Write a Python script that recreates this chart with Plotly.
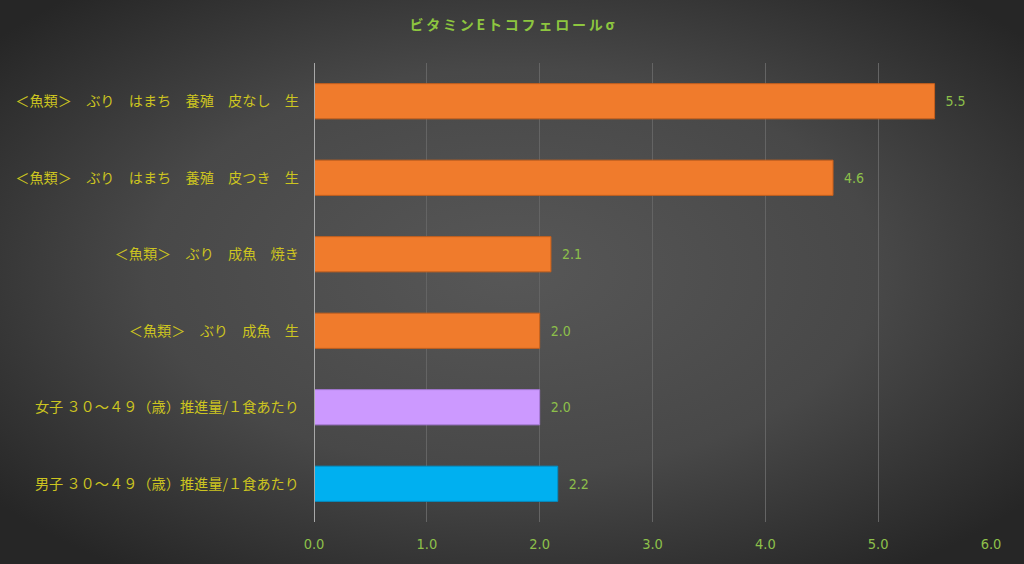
import plotly.graph_objects as go
import urllib.parse

categories = [
    "＜魚類＞　ぶり　はまち　養殖　皮なし　生",
    "＜魚類＞　ぶり　はまち　養殖　皮つき　生",
    "＜魚類＞　ぶり　成魚　焼き",
    "＜魚類＞　ぶり　成魚　生",
    "女子 ３０～４９（歳）推進量/１食あたり",
    "男子 ３０～４９（歳）推進量/１食あたり",
]
values = [5.5, 4.6, 2.1, 2.0, 2.0, 2.16]
bar_colors = ["#F07B2C", "#F07B2C", "#F07B2C", "#F07B2C", "#CC99FF", "#00B0F0"]
line_colors = ["#C8601C", "#C8601C", "#C8601C", "#C8601C", "#A87AD8", "#0090C8"]
tick_vals = [0, 1, 2, 3, 4, 5, 6]
tick_text = ["0.0", "1.0", "2.0", "3.0", "4.0", "5.0", "6.0"]
title_text = "ビタミンEトコフェロールσ"

W, H = 1024, 564
ml, mr, mt, mb = 314, 33, 63, 42
pw, ph = W - ml - mr, H - mt - mb

svg = (
    "<svg xmlns='http://www.w3.org/2000/svg' width='1024' height='564'>"
    "<defs><radialGradient id='g' cx='50%' cy='48%' r='65%'>"
    "<stop offset='0%' stop-color='#575757'/>"
    "<stop offset='55%' stop-color='#484848'/>"
    "<stop offset='100%' stop-color='#262626'/>"
    "</radialGradient></defs>"
    "<rect width='1024' height='564' fill='url(#g)'/></svg>"
)
src = "data:image/svg+xml;charset=utf-8," + urllib.parse.quote(svg)

num_font = "DejaVu Sans Condensed, Liberation Sans Narrow, Open Sans, sans-serif"

fig = go.Figure()
fig.add_trace(go.Bar(
    y=categories,
    x=values,
    orientation="h",
    width=0.46,
    marker=dict(color=bar_colors, line=dict(color=line_colors, width=1)),
    texttemplate="  %{x:.1f}",
    textposition="outside",
    cliponaxis=False,
    textfont=dict(color="#8DC04A", size=14, family=num_font),
    hoverinfo="skip",
))

fig.add_layout_image(dict(
    source=src,
    xref="paper", yref="paper",
    x=-ml / pw, y=1 + mt / ph,
    sizex=W / pw, sizey=H / ph,
    xanchor="left", yanchor="top",
    sizing="stretch", layer="below",
))

spaced_title = "\u2009".join(title_text)

fig.update_layout(
    width=W, height=H,
    margin=dict(l=ml, r=mr, t=mt, b=mb, autoexpand=False),
    paper_bgcolor="#3c3c3c",
    plot_bgcolor="rgba(0,0,0,0)",
    showlegend=False,
    title=dict(
        text="<b>" + spaced_title + "</b>",
        x=0.5, xanchor="center", y=1 - 25 / H, yanchor="middle",
        font=dict(color="#8DC63F", size=14, family="Noto Sans CJK JP, sans-serif"),
    ),
    xaxis=dict(
        range=[0, 6],
        tickvals=tick_vals,
        ticktext=tick_text,
        showgrid=True,
        gridcolor="#646464",
        gridwidth=1,
        zeroline=False,
        showline=False,
        ticks="",
        automargin=False,
        ticklabelstandoff=11,
        tickfont=dict(color="#8DC04A", size=14.5, family=num_font),
    ),
    yaxis=dict(
        autorange="reversed",
        showgrid=False,
        zeroline=False,
        showline=False,
        ticks="",
        automargin=False,
        ticklabelstandoff=14,
        tickfont=dict(color="#CCC420", size=14.2, family="Noto Sans CJK JP, sans-serif"),
    ),
)

fig.add_shape(type="line", xref="x", yref="paper", x0=0, x1=0, y0=0, y1=1,
              line=dict(color="#A8A8A8", width=2), layer="above")

fig.write_html("out.html")
